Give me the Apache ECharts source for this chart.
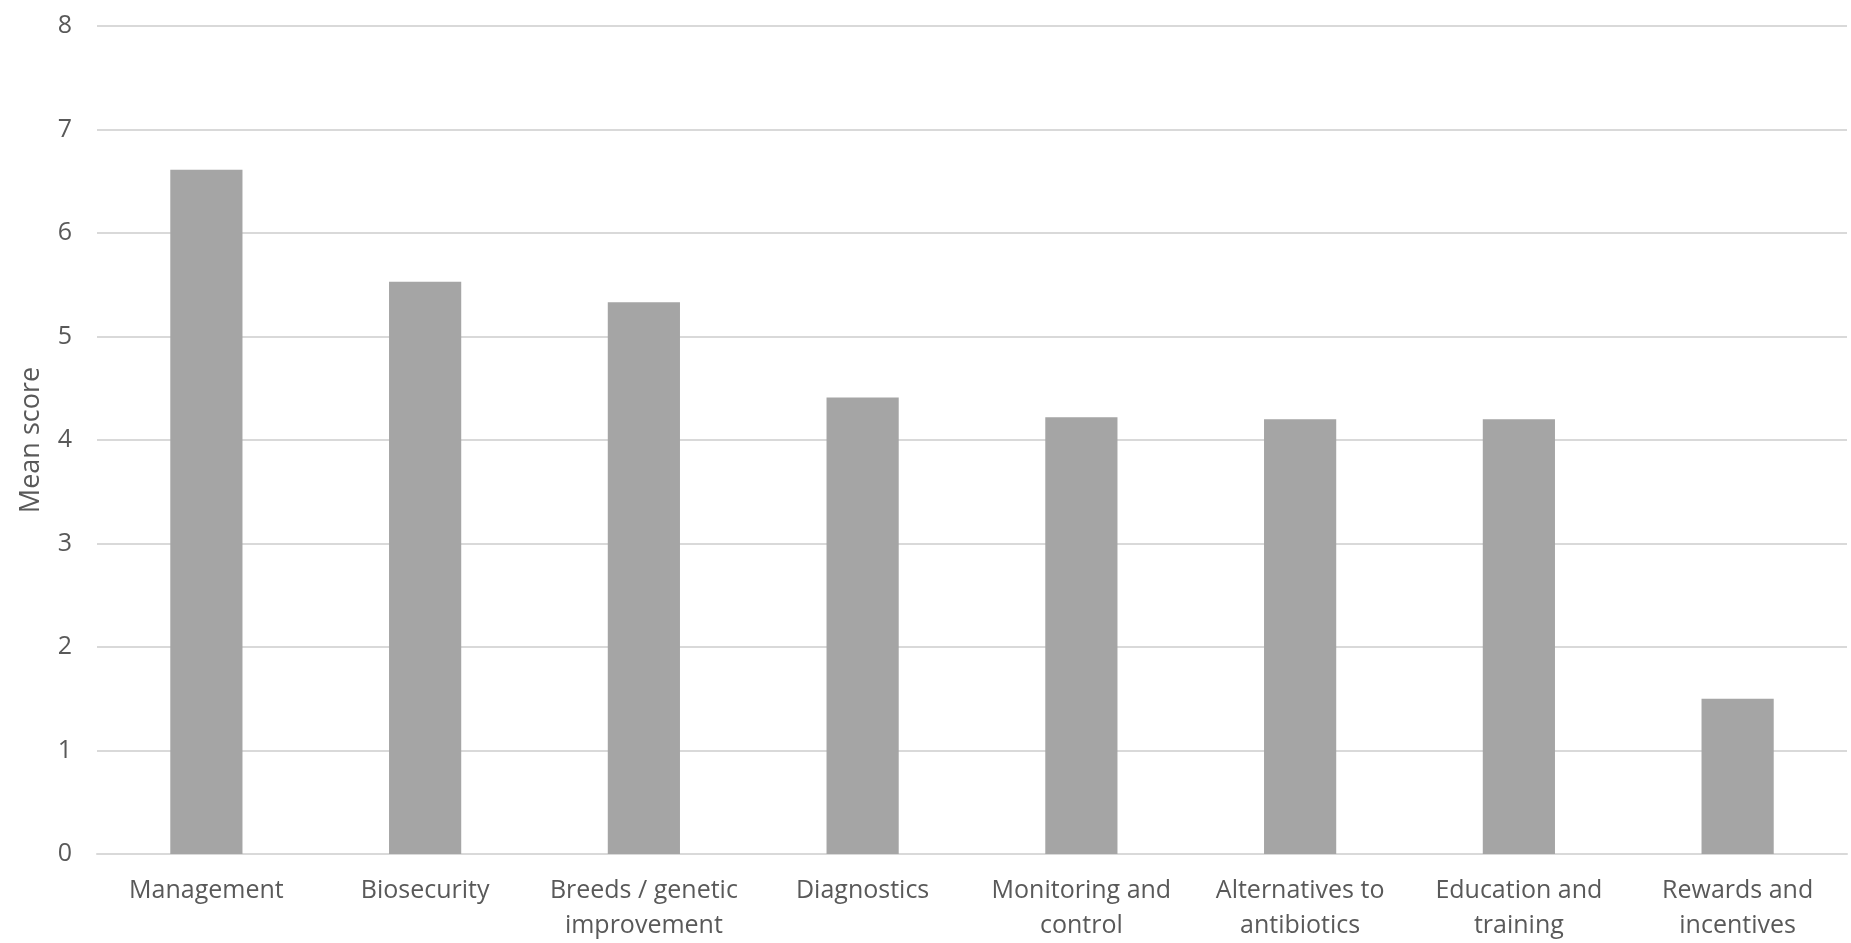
<!DOCTYPE html>
<html>
<head>
<meta charset="utf-8">
<script src="https://cdn.jsdelivr.net/npm/echarts@6/dist/echarts.min.js"></script>
<style>
html,body{margin:0;padding:0;background:#fff;}
#chart{width:1851px;height:943px;}
</style>
</head>
<body>
<div id="chart"></div>
<script>
const categories = ["Management", "Biosecurity", "Breeds / genetic\nimprovement", "Diagnostics", "Monitoring and\ncontrol", "Alternatives to\nantibiotics", "Education and\ntraining", "Rewards and\nincentives"];
const meanScores = [6.61, 5.53, 5.33, 4.41, 4.22, 4.20, 4.20, 1.50];
const yTicks = [0, 1, 2, 3, 4, 5, 6, 7, 8];
const yAxisTitle = "Mean score";

const chart = echarts.init(document.getElementById('chart'));
chart.setOption({
  animation: false,
  backgroundColor: '#ffffff',
  grid: { left: 97, right: 4, top: 26, bottom: 89, containLabel: false },
  xAxis: {
    type: 'category',
    data: categories,
    axisLine: { show: true, lineStyle: { color: '#d9d9d9', width: 2 } },
    axisTick: { show: false },
    axisLabel: {
      color: '#595959', fontSize: 25, fontFamily: 'Open Sans', lineHeight: 35, margin: 19, interval: 0
    }
  },
  yAxis: {
    type: 'value',
    min: yTicks[0], max: yTicks[yTicks.length - 1], interval: 1,
    name: yAxisTitle,
    nameLocation: 'middle',
    nameGap: 52,
    nameTextStyle: { color: '#595959', fontSize: 27, fontFamily: 'Open Sans' },
    axisLine: { show: false },
    axisTick: { show: false },
    axisLabel: { color: '#595959', fontSize: 25, fontFamily: 'Open Sans', margin: 25 },
    splitLine: { show: true, lineStyle: { color: '#d9d9d9', width: 2 } }
  },
  series: [{
    type: 'bar',
    data: meanScores,
    barWidth: '33%',
    itemStyle: { color: '#a5a5a5' }
  }]
});
</script>
</body>
</html>
